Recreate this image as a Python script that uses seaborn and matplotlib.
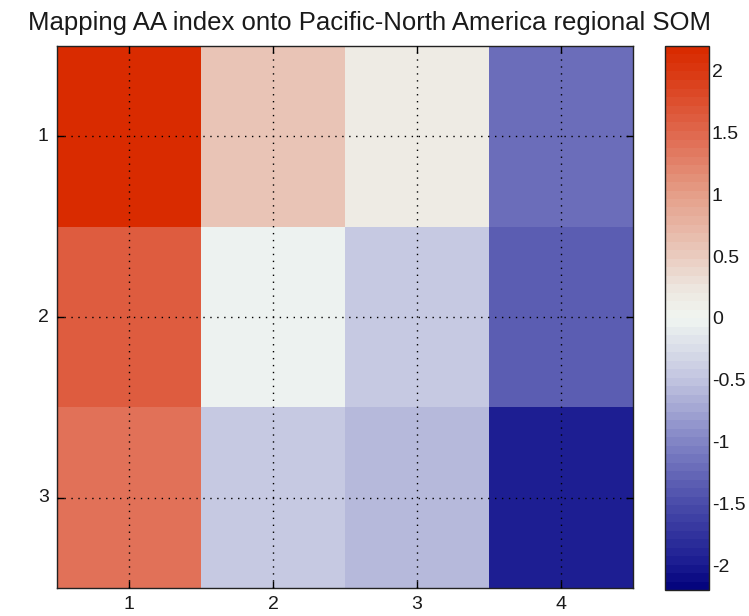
import numpy as np
import pandas as pd
import matplotlib
matplotlib.use("Agg")
import matplotlib.pyplot as plt
from matplotlib.colors import LinearSegmentedColormap
import seaborn as sns

# SOM node layout and the AA index mapped onto each node
row_labels = [1, 2, 3]
col_labels = [1, 2, 3, 4]
row1 = [2.2, 0.6, 0.2, -1.2]
row2 = [1.6, -0.05, -0.45, -1.35]
row3 = [1.4, -0.43, -0.6, -1.95]
cbar_ticks = [-2, -1.5, -1, -0.5, 0, 0.5, 1, 1.5, 2]
title = "Mapping AA index onto Pacific-North America regional SOM"

data = pd.DataFrame([row1, row2, row3], index=row_labels, columns=col_labels)

sns.set_style("white")
plt.rcParams["font.family"] = ["Liberation Sans", "DejaVu Sans"]

vmin, vmax = -2.2, 2.2
# diverging blue-white-red map, quantised like a 64-entry colormap
stops = [
    (-2.2, "#05057e"),
    (-2.0, "#1c1d92"),
    (-1.5, "#4c4eab"),
    (-1.0, "#8386c6"),
    (-0.5, "#c2c5e0"),
    (0.0, "#f0f5f1"),
    (0.25, "#ede6df"),
    (0.5, "#eaccc0"),
    (1.0, "#e5a08a"),
    (1.5, "#e06a50"),
    (2.0, "#da3a14"),
    (2.2, "#d92b00"),
]
anchors = [((v - vmin) / (vmax - vmin), c) for v, c in stops]
cmap = LinearSegmentedColormap.from_list("bwr_som", anchors, N=64)

W, H = 749, 616
fig = plt.figure(figsize=(W / 100, H / 100), dpi=100)
ax = fig.add_axes([57 / W, 1 - 588 / H, (633 - 57) / W, (588 - 46) / H])
cax = fig.add_axes([665 / W, 1 - 590 / H, (709 - 665) / W, (590 - 46) / H])

sns.heatmap(data, cmap=cmap, vmin=vmin, vmax=vmax, ax=ax, cbar_ax=cax,
            cbar_kws={"ticks": cbar_ticks})

ax.set_xticks(np.arange(len(col_labels)) + 0.5)
ax.set_xticklabels([str(c) for c in col_labels], rotation=0)
ax.set_yticks(np.arange(len(row_labels)) + 0.5)
ax.set_yticklabels([str(r) for r in row_labels], rotation=0)
ax.set_xlabel("")
ax.set_ylabel("")
ax.tick_params(direction="in", length=5, width=1, color="black",
               labelsize=14, labelcolor="#1a1a1a", pad=6,
               top=True, right=True, bottom=True, left=True)
ax.grid(True, color="black", linestyle=(0, (1, 4)), linewidth=1)
ax.set_axisbelow(False)
for sp in ax.spines.values():
    sp.set_visible(True)
    sp.set_color("#222222")
    sp.set_linewidth(1)

cax.set_yticklabels([f"{t:g}" for t in cbar_ticks])
cax.tick_params(direction="in", length=5, width=1, color="black",
                labelsize=14, labelcolor="#1a1a1a", left=True, right=True, pad=2)
cb = ax.collections[0].colorbar
cb.outline.set_visible(True)
cb.outline.set_edgecolor("#222222")
cb.outline.set_linewidth(1)

fig.text(370 / W, 1 - 30 / H, title, ha="center", va="baseline",
         fontsize=18.5, color="#1a1a1a")

fig.savefig("out.png", dpi=100, facecolor="white")
